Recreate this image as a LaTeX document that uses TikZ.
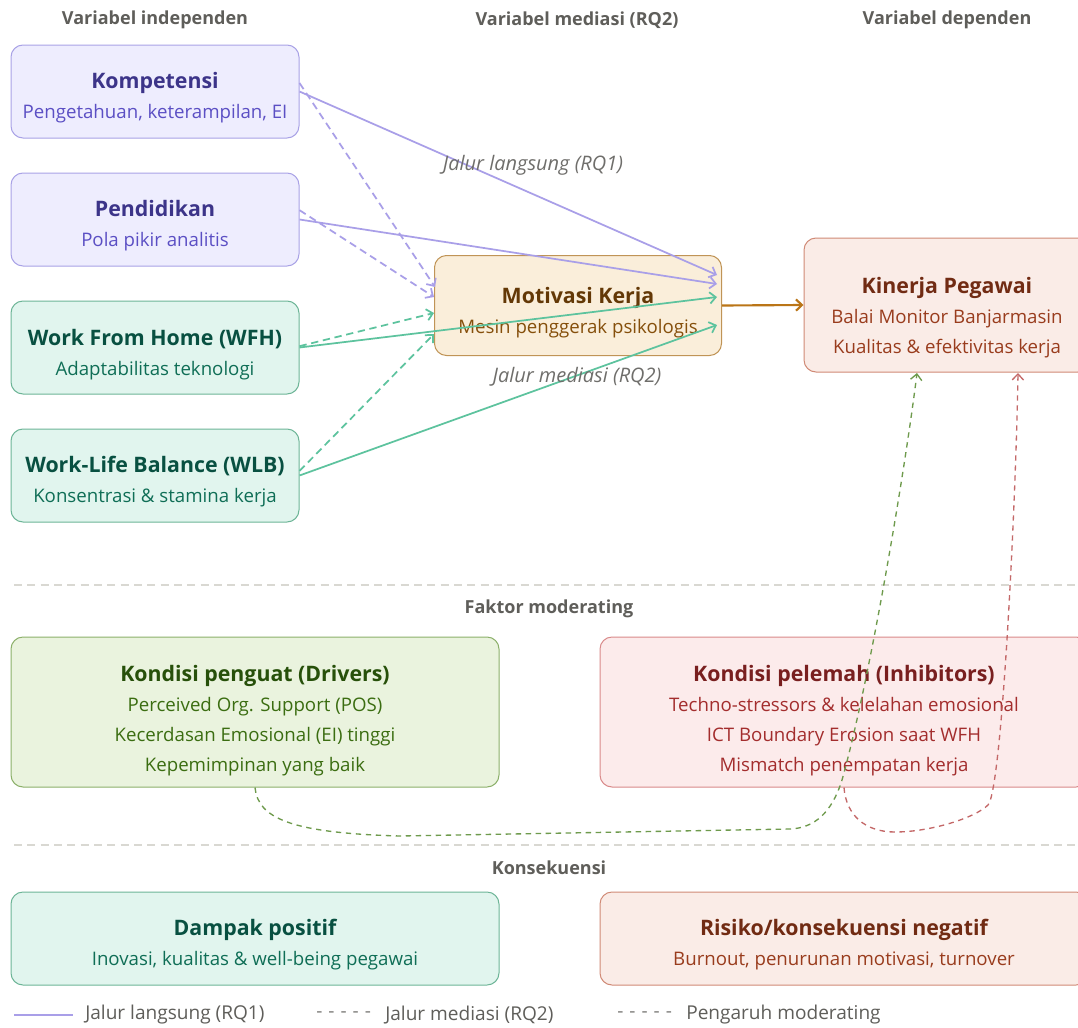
\documentclass[tikz,border=0pt]{standalone}
\usepackage{fontspec}
\setmainfont{Open Sans}
\usetikzlibrary{positioning,arrows.meta}

\definecolor{hdrGray}{HTML}{5F5E5A}
\definecolor{sepGray}{HTML}{D9D8D2}
\definecolor{pFill}{HTML}{EEEDFE}
\definecolor{pBd}{HTML}{A9A2E6}
\definecolor{pLn}{HTML}{A99FE8}
\definecolor{pTtl}{HTML}{3C3489}
\definecolor{pSub}{HTML}{5B4FC4}
\definecolor{gFill}{HTML}{E1F5EE}
\definecolor{gBd}{HTML}{6DB597}
\definecolor{gLn}{HTML}{5DC39E}
\definecolor{gTtl}{HTML}{085041}
\definecolor{gSub}{HTML}{0F6E56}
\definecolor{oFill}{HTML}{FAEEDA}
\definecolor{oBd}{HTML}{C09456}
\definecolor{oLn}{HTML}{BA7517}
\definecolor{oTtl}{HTML}{633806}
\definecolor{oSub}{HTML}{854F0B}
\definecolor{rFill}{HTML}{FAECE7}
\definecolor{rBd}{HTML}{D08A76}
\definecolor{rTtl}{HTML}{712B13}
\definecolor{rSub}{HTML}{993C1D}
\definecolor{lFill}{HTML}{EAF3DE}
\definecolor{lBd}{HTML}{8CB06A}
\definecolor{lLn}{HTML}{6E9A4C}
\definecolor{lTtl}{HTML}{27500A}
\definecolor{lSub}{HTML}{3B6D11}
\definecolor{iFill}{HTML}{FCEBEB}
\definecolor{iBd}{HTML}{D98A8A}
\definecolor{iLn}{HTML}{C46868}
\definecolor{iTtl}{HTML}{791F1F}
\definecolor{iSub}{HTML}{A32D2D}

\newcommand{\boxtitle}[1]{{\fontsize{16}{22.5}\selectfont\bfseries #1}}
\newcommand{\legdash}{-\hspace{4.5pt}-\hspace{4.5pt}-\hspace{4.5pt}-\hspace{4.5pt}-}

\begin{document}
\begin{tikzpicture}[x=0.75pt, y=-0.75pt, node distance=25.5pt,
  box/.style = {draw, rounded corners=9pt, line width=0.75pt, minimum width=216pt, minimum height=69.75pt},
  wide/.style = {box, minimum width=366pt},
  txt/.style = {align=center, inner sep=0pt, font=\fontsize{14}{22.5}\selectfont},
  hdr/.style = {text=hdrGray, font=\fontsize{13.5}{15}\selectfont\bfseries},
  lane/.style = {text=hdrGray!90, font=\fontsize{15}{17}\selectfont\itshape},
  legend/.style = {text=hdrGray, anchor=west, inner sep=0pt, font=\fontsize{14.3}{16}\selectfont},
  sep/.style = {draw=sepGray, line width=0.9pt, dash pattern=on 6pt off 4pt},
  tip/.style = {-{Straight Barb[length=4.5pt, width=8.5pt]}},
  direct/.style = {tip, line width=1.3pt},
  medi/.style = {tip, line width=1.3pt, dash pattern=on 5.5pt off 3.5pt},
  mode/.style = {tip, line width=1pt, dash pattern=on 4pt off 3.5pt}]

\useasboundingbox (0,0) rectangle (1078,1028);
\clip (0,0) rectangle (1078,1028);
\fill[white] (0,0) rectangle (1078,1028);

% column headers
\node[hdr] (hInd) at (155,20) {Variabel independen};
\node[hdr] (hMed) at (577,20) {Variabel mediasi (RQ2)};
\node[hdr] (hDep) at (947,20) {Variabel dependen};

% independent variables
\node[box, draw=pBd, fill=pFill] (komp) at (155,91.5) {};
\node[box, draw=pBd, fill=pFill] (pend) [below=of komp] {};
\node[box, draw=gBd, fill=gFill] (wfh) [below=of pend] {};
\node[box, draw=gBd, fill=gFill] (wlb) [below=of wfh] {};
\node[txt, text=pSub] (kompT) at ([yshift=-4.5pt]komp) {\textcolor{pTtl}{\boxtitle{Kompetensi}}\\Pengetahuan, keterampilan, EI};
\node[txt, text=pSub] (pendT) at ([yshift=-4.5pt]pend) {\textcolor{pTtl}{\boxtitle{Pendidikan}}\\Pola pikir analitis};
\node[txt, text=gSub] (wfhT) at ([yshift=-5pt]wfh) {\textcolor{gTtl}{\boxtitle{Work From Home (WFH)}}\\Adaptabilitas teknologi};
\node[txt, text=gSub] (wlbT) at ([yshift=-4.5pt]wlb) {\textcolor{gTtl}{\boxtitle{Work-Life Balance (WLB)}}\\Konsentrasi \& stamina kerja};

% mediator and dependent
\node[box, draw=oBd, fill=oFill, minimum width=215.25pt, minimum height=75pt] (mot) at (578,305.5) {};
\node[txt, text=oSub] (motT) at ([yshift=-5pt]mot) {\textcolor{oTtl}{\boxtitle{Motivasi Kerja}}\\Mesin penggerak psikologis};
\node[box, draw=rBd, fill=rFill, minimum width=214.5pt, minimum height=100.5pt] (kin) at (947,305) {};
\node[txt, text=rSub] (kinT) at ([yshift=-9.5pt]kin) {\textcolor{rTtl}{\boxtitle{Kinerja Pegawai}}\\Balai Monitor Banjarmasin\\Kualitas \& efektivitas kerja};

% end points on the boxes
\coordinate (mA) at (435,287);
\coordinate (mB) at (434,297);
\coordinate (mC) at (434,313);
\coordinate (mD) at (434,334);
\coordinate (kA) at (717,275);
\coordinate (kB) at (717,284);
\coordinate (kC) at (717,297);
\coordinate (kD) at (717,325);
\coordinate (kG) at (917,373);
\coordinate (kR) at (1018,373);

% mediation paths
\draw[medi, pLn] ([yshift=6.4pt]komp.east) -- (mA);
\draw[medi, pLn] ([yshift=7pt]pend.east) -- (mB);
\draw[medi, gLn] ([yshift=1pt]wfh.east) -- (mC);
\draw[medi, gLn] ([yshift=3.4pt]wlb.east) -- (mD);
% direct paths
\draw[direct, pLn] (komp.east) -- (kA);
\draw[direct, pLn] (pend.east) -- (kB);
\draw[direct, gLn] (wfh.east) -- (kC);
\draw[direct, gLn] (wlb.east) -- (kD);
\draw[direct, oLn, line width=1.6pt] (mot.east) -- (kin.west);

\node[lane] (laneA) at (533,165) {Jalur langsung (RQ1)};
\node[lane] (laneB) at (577,377) {Jalur mediasi (RQ2)};

% moderating factors
\draw[sep] (14,585) -- (1078,585);
\node[hdr] (hMod) at (549,609) {Faktor moderating};
\node[wide, draw=lBd, fill=lFill, minimum height=112.5pt] (dri) at (255,712) {};
\node[txt, text=lSub] (driT) at ([yshift=-6.75pt]dri) {\textcolor{lTtl}{\boxtitle{Kondisi penguat (Drivers)}}\\Perceived Org. Support (POS)\\Kecerdasan Emosional (EI) tinggi\\Kepemimpinan yang baik};
\node[wide, draw=iBd, fill=iFill, minimum height=112.5pt] (inh) at (844,712) {};
\node[txt, text=iSub] (inhT) at ([yshift=-6.75pt]inh) {\textcolor{iTtl}{\boxtitle{Kondisi pelemah (Inhibitors)}}\\Techno-stressors \& kelelahan emosional\\ICT Boundary Erosion saat WFH\\Mismatch penempatan kerja};

\draw[mode, lLn] (dri.south) .. controls (258,818) and (290,833) .. (400,836)
  -- (790,829) .. controls (815,828) and (832,812) .. (842,780)
  .. controls (870,680) and (905,470) .. (kG);
\draw[mode, iLn] (inh.south) .. controls (846,815) and (865,832) .. (895,832)
  .. controls (930,832) and (975,818) .. (988,805)
  .. controls (1002,790) and (1016,500) .. (kR);

% consequences
\draw[sep] (14,845) -- (1078,845);
\node[hdr] (hKon) at (549,868) {Konsekuensi};
\node[wide, draw=gBd, fill=gFill] (dam) at (255,938.5) {};
\node[txt, text=gSub] (damT) at ([yshift=-4.9pt]dam) {\textcolor{gTtl}{\boxtitle{Dampak positif}}\\Inovasi, kualitas \& well-being pegawai};
\node[wide, draw=rBd, fill=rFill] (ris) at (844,938.5) {};
\node[txt, text=rSub] (risT) at ([yshift=-4.9pt]ris) {\textcolor{rTtl}{\boxtitle{Risiko/konsekuensi negatif}}\\Burnout, penurunan motivasi, turnover};

% legend
\coordinate (lgS) at (14,1015);
\coordinate (lgE) at (73,1015);
\draw[pLn, line width=2.2pt] (lgS) -- (lgE);
\node[legend] (lgA) at (85,1015) {Jalur langsung (RQ1)};
\node[legend, text=hdrGray!80] (lgB) at (316,1015) {\legdash};
\node[legend] (lgC) at (385,1015) {Jalur mediasi (RQ2)};
\node[legend, text=hdrGray!80] (lgD) at (617,1015) {\legdash};
\node[legend] (lgE2) at (686,1015) {Pengaruh moderating};
\end{tikzpicture}
\end{document}
